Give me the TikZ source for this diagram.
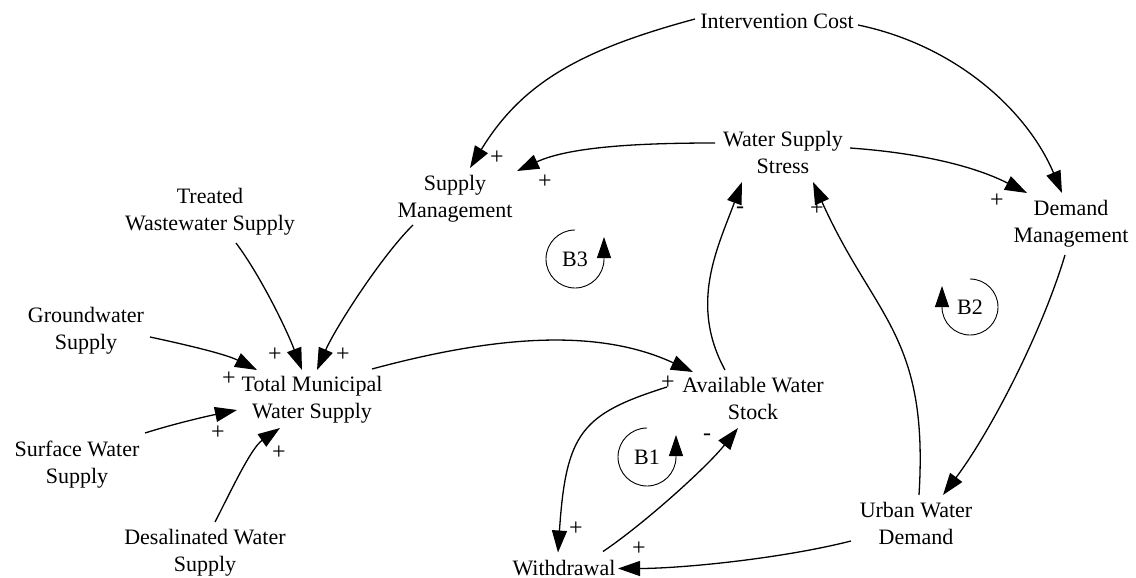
\documentclass[tikz,border=0pt]{standalone}
\usepackage{fontspec}
\setmainfont{Liberation Serif}
\usetikzlibrary{arrows.meta}
\begin{document}
\begin{tikzpicture}[x=1pt,y=-1pt,
  var/.style={align=center, inner sep=0pt, font=\fontsize{22}{27}\selectfont},
  pol/.style={inner sep=0pt, font=\fontsize{24}{28}\selectfont},
  link/.style={line width=1.3pt, -{Triangle[length=22pt,width=15pt]}},
  looparrow/.style={line width=0.9pt, -{Triangle[length=21pt,width=14pt]}}
]
\useasboundingbox (0,0) rectangle (1136,578);

% variables
\node[var] (iv)  at (777,21.5)  {Intervention Cost};
\node[var] (wss) at (783,152.5) {Water Supply\\Stress};
\node[var] (sm)  at (455,198.5) {Supply\\Management};
\node[var] (tws) at (210,212)   {Treated\\Wastewater Supply};
\node[var] (dm)  at (1071,224)  {Demand\\Management};
\node[var] (gw)  at (86,331)    {Groundwater\\Supply};
\node[var] (tm)  at (312,400)   {Total Municipal\\Water Supply};
\node[var] (sw)  at (77,464.5)  {Surface Water\\Supply};
\node[var] (ds)  at (205,553)   {Desalinated Water\\Supply};
\node[var] (aws) at (753,398)   {Available Water\\Stock};
\node[var] (wd)  at (564,568)   {Withdrawal};
\node[var] (uwd) at (916,523.5) {Urban Water\\Demand};

% causal links
\draw[link] ([shift={(-82,-2.5)}]iv.center) .. controls +(-115,31) and +(52,-85) .. ([shift={(15,-30.5)}]sm.center);
\draw[link] ([shift={(81,3.5)}]iv.center) .. controls +(97,20) and +(-35,-83) .. ([shift={(-9,-31)}]dm.center);
\draw[link] ([shift={(-68,-9.5)}]wss.center) .. controls +(-70,0) and +(54,-25) .. ([shift={(62,-27.5)}]sm.center);
\draw[link] ([shift={(67,-4.5)}]wss.center) .. controls +(70,5) and +(-53,-27) .. ([shift={(-44,-31)}]dm.center);
\draw[link] ([shift={(-28,-28)}]aws.center) .. controls +(-36,-66) and +(-24.5,66) .. ([shift={(-41,29.5)}]wss.center);
\draw[link] ([shift={(3,-28.5)}]uwd.center) .. controls +(10,-160) and +(61.5,136.5) .. ([shift={(30,29.5)}]wss.center);
\draw[link] ([shift={(-6,31)}]dm.center) .. controls +(-23,77) and +(48,-64) .. ([shift={(27,-28.5)}]uwd.center);
\draw[link] ([shift={(60,-31)}]tm.center) .. controls +(115,-31) and +(-99,-46) .. ([shift={(-60,-26)}]aws.center);
\draw[link] ([shift={(-86,-11)}]aws.center) .. controls +(-85.5,27) and +(8,-120) .. ([shift={(-6,-15.5)}]wd.center);
\draw[link] ([shift={(39,-16.5)}]wd.center) .. controls +(41.5,-28) and +(-31,39) .. ([shift={(-15,30)}]aws.center);
\draw[link] ([shift={(-65,17.5)}]uwd.center) .. controls +(-71,18) and +(62,0) .. ([shift={(54,0.5)}]wd.center);
\draw[link] ([shift={(64,6)}]gw.center) .. controls +(35,7.5) and +(-31.5,-16) .. ([shift={(-55,-30)}]tm.center);
\draw[link] ([shift={(68,-31.5)}]sw.center) .. controls +(30,-9.5) and +(-29,6) .. ([shift={(-75,10)}]tm.center);
\draw[link] ([shift={(10,-31)}]ds.center) .. controls +(16,-31) and +(-29,20) .. ([shift={(-32,28)}]tm.center);
\draw[link] ([shift={(26,31)}]tws.center) .. controls +(24,32) and +(-16,-42) .. ([shift={(-10,-30)}]tm.center);
\draw[link] ([shift={(-42,26.5)}]sm.center) .. controls +(-32,31.5) and +(18,-41.4) .. ([shift={(5,-30)}]tm.center);

% link polarities
\node[pol] (s1)  at (497,158) {+};
\node[pol] (s2)  at (545,182) {+};
\node[pol] (s3)  at (997,201) {+};
\node[pol] (s4)  at (817,209) {+};
\node[pol] (s5)  at (740,210) {-};
\node[pol] (s6)  at (275,355) {+};
\node[pol] (s7)  at (343,355) {+};
\node[pol] (s8)  at (229,379) {+};
\node[pol] (s9)  at (218,433) {+};
\node[pol] (s10) at (279,453) {+};
\node[pol] (s11) at (668,383) {+};
\node[pol] (s12) at (576,529) {+};
\node[pol] (s13) at (639,549) {+};
\node[pol] (s14) at (707,437) {-};

% loop markers
\node[var] (b3) at (575,259) {B3};
\node[var] (b1) at (647,457) {B1};
\node[var] (b2) at (970,307) {B2};
\draw[looparrow] ([shift={(0,-29)}]b3.center) arc[start angle=270, end angle=0, radius=29] -- ++(0,-22);
\draw[looparrow] ([shift={(0,-29)}]b1.center) arc[start angle=270, end angle=0, radius=29] -- ++(0,-22);
\draw[looparrow] ([shift={(0,-28)}]b2.center) arc[start angle=270, end angle=540, radius=28] -- ++(0,-21);
\end{tikzpicture}
\end{document}
